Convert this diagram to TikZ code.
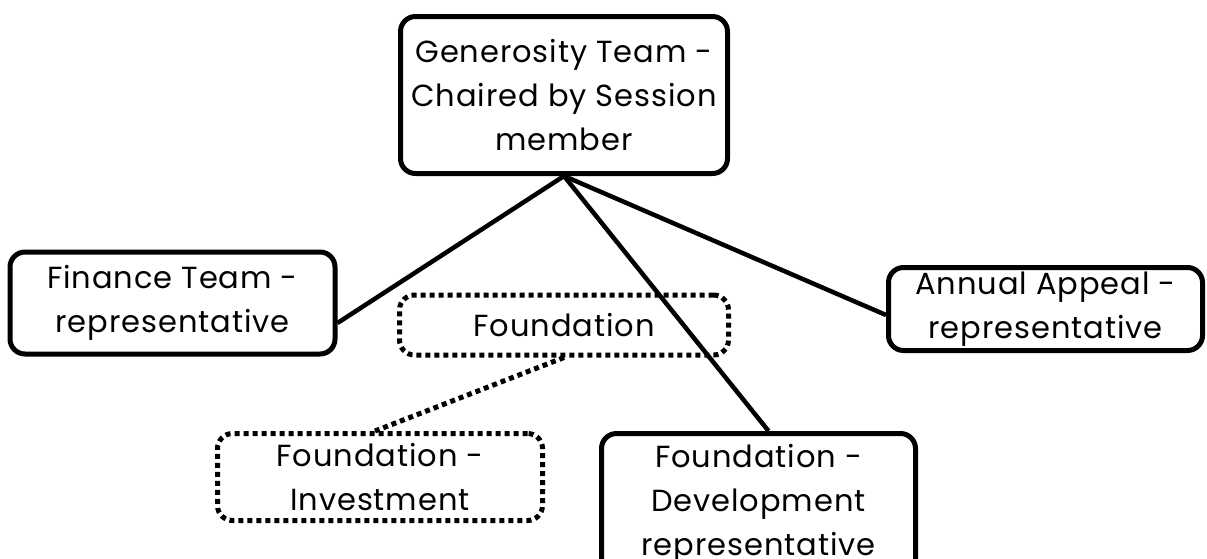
\documentclass[tikz,border=0pt]{standalone}
\usepackage{fontspec}
\setmainfont{Poppins}[LetterSpace=3]

\begin{document}
\begin{tikzpicture}[x=1pt,y=-1pt,
  box/.style={draw,line width=5pt,rounded corners=15pt,align=center,inner sep=0pt,
    font={\fontsize{30.5}{44}\selectfont}},
  dotbox/.style={box,dash pattern=on 5pt off 4pt},
  link/.style={line width=4.5pt},
  dotlink/.style={line width=5pt,dash pattern=on 5pt off 4pt}]
\useasboundingbox (0,0) rectangle (1207,558);
\node[box,minimum width=327pt,minimum height=157pt] (gen) at (564,95) {Generosity Team -\\Chaired by Session\\member};
\node[box,minimum width=325pt,minimum height=102pt] (fin) at (172.5,303) {Finance Team -\\representative};
\node[dotbox,minimum width=329pt,minimum height=60pt] (fnd) at (564,325) {Foundation};
\node[box,minimum width=314pt,minimum height=83pt] (app) at (1045.5,309) {Annual Appeal -\\representative};
\node[dotbox,minimum width=325pt,minimum height=87pt] (inv) at (380,477) {Foundation -\\Investment};
\node[box,minimum width=314pt,minimum height=141pt] (dev) at (758.5,504) {Foundation -\\Development\\representative};
%\draw[step=10,gray,very thin] (0,0) grid (1207,558);
\draw[link] (gen.south) -- ([yshift=-20pt]fin.east);
\draw[link] (gen.south) -- ([yshift=-6pt]app.west);
\draw[link] (gen.south) -- ([xshift=10pt]dev.north);
\draw[dotlink] (fnd.south) -- ([xshift=-5pt]inv.north);
\end{tikzpicture}
\end{document}
